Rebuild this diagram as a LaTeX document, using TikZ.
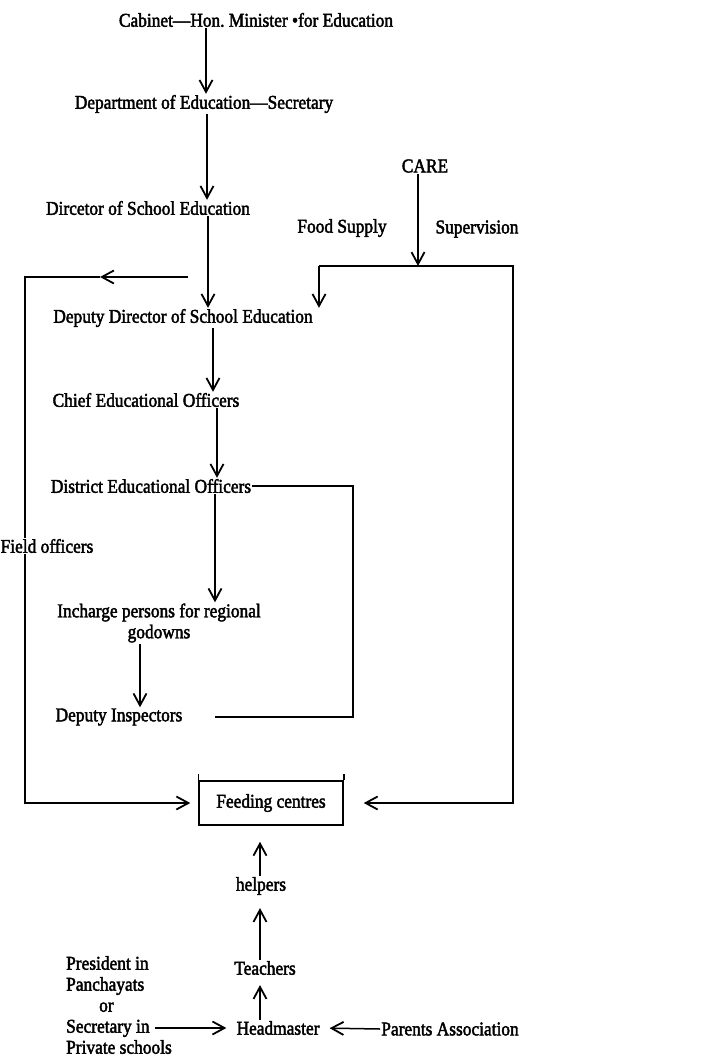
\documentclass[tikz,border=0pt]{standalone}
\usepackage{fontspec}
\setmainfont{Liberation Serif}[FakeStretch=0.89,FakeBold=2.2]
\usetikzlibrary{arrows.meta}
\begin{document}
\begin{tikzpicture}[x=1pt,y=-1pt,
  lbl/.style={inner sep=1pt,font=\fontsize{19.5}{21}\selectfont},
  ln/.style={line width=1.5pt},
  arr/.style={ln,-{Straight Barb[length=12pt,width=13pt,line width=1.8pt]}},
]
\useasboundingbox (0,0) rectangle (719,1060);
% nodes
\node[lbl] (cab) at (256,20) {Cabinet—Hon.\ Minister •for Education};
\node[lbl] (dept) at (204,104) {Department of Education—Secretary};
\node[lbl] (dir) at (148,208) {Dircetor of School Education};
\node[lbl] (care) at (425,166) {CARE};
\node[lbl] (food) at (342,228) {Food Supply};
\node[lbl] (sup) at (477,229) {Supervision};
\node[lbl] (ddir) at (183,318) {Deputy Director of School Education};
\node[lbl] (chief) at (146,400) {Chief Educational Officers};
\node[lbl] (dist) at (151,486) {District Educational Officers};
\node[lbl,align=center] (inch) at (159,623) {Incharge persons for regional\\godowns};
\node[lbl] (dins) at (119,717) {Deputy Inspectors};
\node[lbl] (field) at (47,546) {Field officers};
\node[lbl,draw,line width=1.5pt,minimum width=144pt,minimum height=44pt] (feed) at (271,803) {Feeding centres};
\node[lbl] (help) at (261,886) {helpers};
\node[lbl] (teach) at (265,968) {Teachers};
\node[lbl] (head) at (278,1028) {Headmaster};
\node[lbl,align=left,anchor=west] (pres) at (65,1005) {President in\\Panchayats\\\hspace*{33pt}or\\Secretary in\\Private schools};
\node[lbl] (parents) at (450,1029) {Parents Association};
% coordinates
\coordinate (cj) at (319,266);
\coordinate (rt) at (513,266);
\coordinate (lt) at (25,277);
\coordinate (fb) at (188,277);
\coordinate (fm) at (100,277);
\coordinate (bx) at (353,0);
% box extensions
\draw[ln] (feed.north west) -- ++(0,-6);
\draw[ln] (feed.north east) -- ++(0,-6);
% main chain
\draw[arr] ([xshift=-50pt]cab.south) -- ([xshift=-50pt]cab.south |- dept.north);
\draw[arr] ([xshift=3pt]dept.south) -- ([xshift=3pt]dept.south |- dir.north);
\draw[arr] ([xshift=60pt]dir.south) -- ([xshift=60pt]dir.south |- ddir.north);
\draw[arr] ([xshift=30pt]ddir.south) -- ([xshift=30pt]ddir.south |- chief.north);
\draw[arr] ([xshift=71pt]chief.south) -- ([xshift=71pt]chief.south |- dist.north);
\draw[arr] ([xshift=64pt]dist.south) -- ([xshift=64pt]dist.south |- inch.north);
\draw[arr] ([xshift=-19pt]inch.south) -- ([xshift=-19pt]inch.south |- dins.north);
% CARE
\draw[arr] ([xshift=-7pt]care.south) -- ([xshift=-7pt]care.south |- cj);
\draw[arr,shorten >=20pt] (cj) -- (rt) -- (rt |- feed.east) -- (feed.east);
\draw[arr] (cj) -- (cj |- ddir.north);
% field officers loop
\draw[arr] (fb) -- (fm);
\draw[ln] (fm) -- (lt) -- (lt |- field.north);
\draw[arr,shorten >=8pt] (lt |- field.south) -- (lt |- feed.west) -- (feed.west);
% district bracket
\draw[ln] (dist.east) -- (dist.east -| bx) -- (dins.east -| bx) -- ([xshift=31pt]dins.east);
% bottom
\draw[arr,shorten >=16pt] ([xshift=-1pt]help.north) -- ([xshift=-1pt]help.north |- feed.south);
\draw[arr,shorten >=12pt] ([xshift=-5pt]teach.north) -- ([xshift=-5pt]teach.north |- help.south);
\draw[arr,shorten >=9pt] ([xshift=-18pt]head.north) -- ([xshift=-18pt]head.north |- teach.south);
\draw[arr,shorten >=9pt] ([xshift=-18pt]pres.east |- head.west) -- (head.west);
\draw[arr,shorten >=9pt] (parents.west) -- (head.east);
\end{tikzpicture}
\end{document}
